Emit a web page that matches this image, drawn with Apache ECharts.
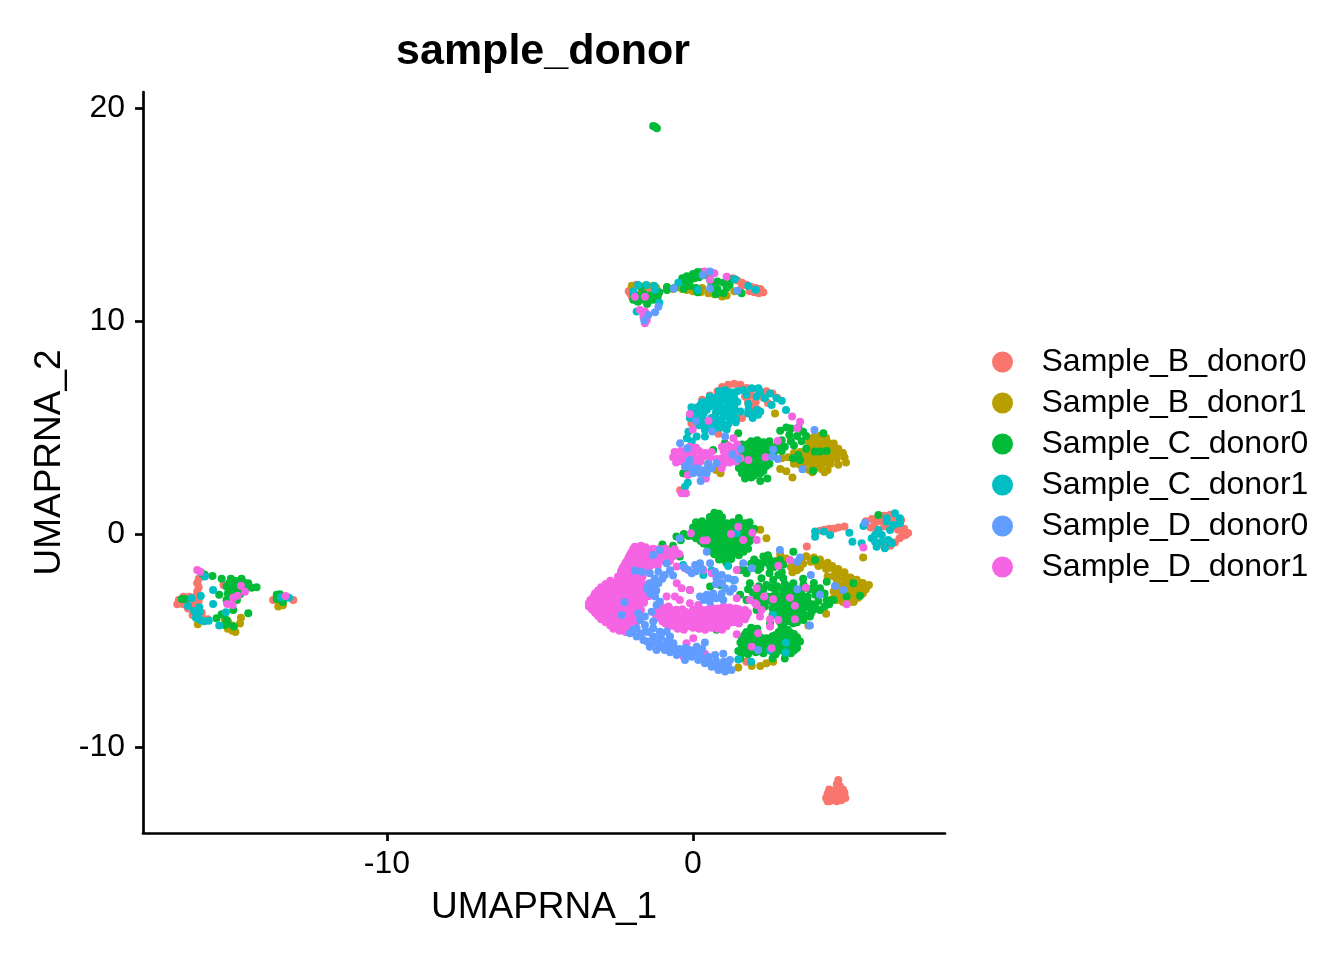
<!DOCTYPE html>
<html><head><meta charset="utf-8">
<style>html,body{margin:0;padding:0;background:#fff}#c{width:1344px;height:960px}</style>
<script src="https://cdn.jsdelivr.net/npm/echarts@6/dist/echarts.min.js"></script>
</head><body><div id="c"></div>
<script>
const xTicks=[-10,0];
const yTicks=[-10,0,10,20];
const seriesNames=["Sample_B_donor0","Sample_B_donor1","Sample_C_donor0","Sample_C_donor1","Sample_D_donor0","Sample_D_donor1"];
const seriesColors=["#F8766D","#B79F00","#00BA38","#00BFC4","#619CFF","#F564E3"];
const sampleB0=[[4.35,-12.4],[4.45,-12.55],[4.55,-12.5],[4.7,-12.55],[4.85,-12.5],[4.98,-12.4],[4.4,-12.2],[4.55,-12.25],[4.7,-12.3],[4.85,-12.25],[4.95,-12.15],[4.45,-12],[4.6,-12.05],[4.75,-12],[4.9,-12],[4.7,-11.75],[4.8,-11.85],[4.75,-11.55],[4.4,-12.55],
[5.65,.6],[5.85,.7],[6.05,.8],[6.25,.85],[6.45,.9],[6.6,.8],[6.8,.65],[5.95,.5],[6.15,.6],[6.35,.65],[6.55,.55],[6.75,.4],[6.9,.25],[7.03,.05],[6.85,0],[6.7,.2],[6.5,.3],[6.25,.35],[6,.2],[6.75,-.2],[6.6,-.4],[6.45,-.55],[6.2,-.5],[6.95,-.05],[5.8,.3],[6.85,-.1],
[4.15,.15],[4.3,.2],[4.45,.25],[4.6,.25],[4.75,.3],[4.95,.35],[3.72,-.59],[1.75,-6],
[-2.1,11.4],[-2,11.6],[-1.85,11.7],[-1.7,11.3],[-2,11.15],[1.3,12],[1.45,11.9],[1.6,11.8],[1.75,11.7],[1.9,11.6],[2.05,11.55],[2.2,11.5],[2.3,11.35],[2.15,11.3],[2,11.35],[1.85,11.4],[.3,12.2],[.5,12.2],
[-1.95,11.5],[-2.05,11.3],[-1.65,11.5],[-1.45,11.55],[1.6,11.65],[1.95,11.45],[2.1,11.45],
[.3,6.3],[.55,6.5],[.8,6.7],[.95,6.9],[1.15,7],[1.35,7.05],[1.55,7],[1.75,6.85],[1.95,6.8],[2.15,6.75],[2.4,6.7],[2.6,6.6],[2.75,6.4],[1.9,6.5],[1.8,6.2],[1.95,6],[2.1,5.85],[1.85,5.7],[1.6,5.45],[2.3,6.4],[2.45,6.15],[1.4,5.5],[0,5.7],[-.05,5.2],[1.7,6.45],[2.05,6.2],[.83,4.7],[-.42,2.05],
[-16.15,-2.1],[-16.2,-2.3],[-16.15,-2.5],[-16.2,-2.7],[-16.25,-2.95],[-16.65,-2.95],[-16.45,-2.95],[-16.8,-3.1],[-16.85,-3.3],[-16.65,-3.3],[-16.45,-3.2],[-16.3,-3.2],[-16.15,-3.15],[-16.5,-3.5],[-16.3,-3.5],[-16.2,-3.7],[-16.35,-3.8],[-16.15,-4],[-16.05,-3.7],[-15.85,-4],[-15.34,-2.4],[-13.72,-3.1],[-13.06,-3.1],[-16.55,-3.1],[-16.35,-3.35],[-16.25,-3.85],[-16.05,-3.9]];
const sampleB1=[[-15.2,-4.1],[-15.05,-4.3],[-15.2,-4.45],[-15.05,-4.55],[-14.95,-4.6],[-14.8,-4.2],[-15.3,-4],[-14.77,-3.93],[-16.18,-4.24],[-13.55,-3.4],[-13.4,-3.35],[-13.5,-3.3],
[-2,11.65],[-1.55,11.65],[-1.3,11.65],[-1.2,11.55],[-.65,11.5],[-.5,11.6],[-.35,11.5],[-.2,11.45],[0,11.4],[.25,11.35],[.5,11.3],[.7,11.25],[.95,11.15],[1.1,11.2],[1.35,11.4],[.3,11.55],[.6,11.5],
[3.95,4.55],[4.15,4.6],[4.35,4.5],[3.8,4.3],[4,4.35],[4.2,4.25],[4.4,4.3],[4.6,4.25],[3.75,4.05],[3.95,4],[4.15,4.1],[4.35,4],[4.55,4.05],[4.75,4],[3.3,3.8],[3.5,3.85],[3.7,3.75],[3.9,3.8],[4.1,3.85],[4.3,3.75],[4.5,3.8],[4.7,3.85],[4.9,3.8],[2.9,3.55],[3.1,3.6],[3.3,3.5],[3.5,3.55],[3.7,3.6],[3.9,3.5],[4.1,3.55],[4.3,3.6],[4.5,3.5],[4.7,3.55],[4.95,3.6],[3.3,3.3],[3.5,3.25],[3.7,3.35],[3.9,3.3],[4.1,3.25],[4.3,3.35],[4.5,3.3],[4.75,3.25],[5,3.35],[3.6,3.05],[3.8,3],[4,3.1],[4.2,3.05],[4.4,3],[3.9,2.9],[4.3,2.9],[2.85,3.05],[3.05,2.95],[3.25,2.65],[.9,2.85],[.75,3],[2.68,5.65],
[3.25,-1.8],[3.2,-1.55],[3.5,-1.6],[3.45,-1.3],[3.7,-1.05],[3.95,-1.1],[4.15,-1.2],[4.4,-1.35],[4.55,-1.5],[4.75,-1.65],[4.95,-1.8],[5.15,-2.05],[5.35,-2.15],[5.55,-2.3],[5.75,-2.4],[5.65,-2.6],[5.45,-2.45],[5.2,-2.4],[5,-2.2],[4.8,-2.05],[4.6,-2],[4.35,-1.65],[4.1,-1.5],[5.55,-2.8],[5.35,-2.7],[5.15,-2.65],[4.95,-2.6],[4.75,-2.5],[5.4,-3],[5.2,-2.95],[5,-2.9],[4.8,-2.85],[4.6,-2.7],[5.1,-3.2],[4.9,-3.2],[4.7,-3.1],[5.25,-3.2],[4.55,-3.05],[3.6,-1.4],[2.85,-.95],[2.75,-1.25],[3.05,-1.15],[4.4,-2],[4.35,-3.75],[3.77,-4.3],[2.4,-.2],[2.2,.2],[5.56,-1.1],[1.92,-6.2],[2.4,-6.07],[2.62,-6],[2.2,-6.2],[1.48,-6.27],
[3.85,-1.3],[4.05,-1.35],[4.25,-1.45],[4.45,-1.6],[4.65,-1.8],[4.85,-1.95],[5.05,-2.05],[5.25,-2.2],[5.45,-2.3],[5.6,-2.45],[5.5,-2.65],[5.3,-2.55],[5.1,-2.5],[4.9,-2.4],[4.7,-2.3],[5.25,-2.8],[5.05,-2.75],[4.85,-2.7],[4.65,-2.6],[5.3,-3.05],[5.1,-3.05],[4.9,-3.05],[4.7,-2.95],[3.35,-1.45],[3.55,-1.2],[3.4,-1.7]];
const sampleC0=[[-1.24,19.12],[-1.3,19.15],[-1.18,19.05],
[.7,1],[.85,.95],[.55,.8],[.75,.85],[.95,.78],[1.5,.75],[.1,.55],[.3,.6],[.5,.5],[.7,.55],[.9,.6],[1.1,.5],[1.3,.55],[1.5,.6],[1.7,.5],[1.85,.55],[0,.3],[.2,.25],[.4,.35],[.6,.3],[.8,.25],[1,.35],[1.2,.3],[1.4,.25],[1.6,.35],[1.8,.3],[2,.25],[-.05,.05],[.15,.1],[.35,0],[.55,.05],[.75,.1],[.95,0],[1.15,.05],[1.35,.1],[1.55,0],[1.75,.05],[1.95,.1],[.1,-.2],[.3,-.25],[.5,-.15],[.7,-.2],[.9,-.25],[1.1,-.15],[1.3,-.2],[1.5,-.25],[1.7,-.15],[1.9,-.2],[.35,-.45],[.55,-.5],[.75,-.4],[.95,-.45],[1.15,-.5],[1.35,-.4],[1.55,-.45],[1.75,-.5],[.6,-.7],[.8,-.75],[1,-.65],[1.2,-.7],[1.4,-.75],[1.6,-.65],[1.8,-.7],[.7,-.95],[.9,-1],[1.1,-.9],[1.3,-.95],[1.5,-1],[.85,-1.2],[1.05,-1.25],[1.25,-1.18],[-.54,-.12],[-.3,0],[-1,-.5],[-.65,-.55],[-.4,-.3],[-.15,-.1],[-1.6,-.7],
[.2,.42],[.4,.44],[.6,.4],[.8,.43],[1,.41],[1.2,.44],[1.4,.4],[1.6,.43],[1.8,.41],[.1,.18],[.3,.16],[.5,.2],[.7,.17],[.9,.19],[1.1,.16],[1.3,.2],[1.5,.17],[1.7,.19],[1.9,.16],[0,-.08],[.2,-.06],[.4,-.1],[.6,-.07],[.8,-.09],[1,-.06],[1.2,-.1],[1.4,-.07],[1.6,-.09],[1.8,-.06],[.25,-.33],[.45,-.31],[.65,-.35],[.85,-.32],[1.05,-.34],[1.25,-.31],[1.45,-.35],[1.65,-.32],[1.85,-.34],[.5,-.6],[.7,-.58],[.9,-.62],[1.1,-.59],[1.3,-.61],[1.5,-.58],[1.7,-.62],[.65,-.85],[.85,-.83],[1.05,-.87],[1.25,-.84],[1.45,-.86],[1.65,-.83],
[2.3,-1.06],[2.62,-1.3],[2.84,-1.22],[3.28,-.83],[2.52,-1.53],[2.13,-1.69],[2.24,-2.08],[2.79,-1.93],[2.95,-2.08],[2.62,-2.16],[3.28,-2.32],[3.61,-2.39],[3.5,-2.79],[3.17,-2.47],[2.95,-2.63],[2.84,-2.94],[2.62,-3.25],[2.95,-3.25],[3.17,-3.41],[3.5,-3.1],[3.71,-3.41],[3.93,-3.57],[4.15,-3.57],[4.37,-3.1],[4.59,-3.1],[4.37,-2.24],[3.99,-1.22],[1.75,-1.85],[1.54,-2.86],[1.75,-3.1],[2.08,-3.57],[2.35,-3.41],[2.73,-3.72],[3.06,-3.8],[3.39,-3.72],[3.61,-4.04],[3.82,-3.88],[3.28,-4.19],[2.95,-4.27],[2.52,-4.19],[2.08,-2.94],[2.41,-2.94],[1.86,-2.32],[5.24,-2.32],[5.46,-2.9],[5.02,-2.94],
[3,-2.9],[3.2,-2.9],[3.35,-3],[3.05,-3.05],[3.3,-3.2],[3.45,-3.35],[3.6,-3.3],[3.75,-3.2],[3.9,-3.3],[2.8,-3.4],[3,-3.5],[3.2,-3.6],[3.4,-3.5],[3.55,-3.6],[2.85,-3.6],[2.6,-3.5],[2.6,-3.8],[2.8,-3.9],[3,-4],[3.2,-3.9],[3.45,-3.95],[2.4,-2.4],[2.15,-2.45],[2.4,-3.15],[2.2,-3.2],[2,-3.15],[1.8,-2.6],[2.7,-2.7],[2.75,-2.45],[3.3,-2.6],[3,-2.35],[2.5,-1.2],[2.3,-1.35],[2.1,-1.35],[1.9,-1.4],[2.65,-1.55],[2.95,-1.45],[3.75,-2.95],[4,-2.85],[3.8,-2.6],[4.3,-3.4],[4.45,-3.3],[3.95,-2.3],[3.6,-2.1],
[3.1,-2.75],[3.25,-2.75],[3.4,-2.85],[2.75,-3.05],[2.95,-3.05],[3.15,-3.2],[2.7,-3.3],[3.65,-3.45],[3.85,-3.45],[4,-3.45],[3.6,-2.95],[3.3,-3.35],[3.1,-3.75],[2.95,-3.7],[3.3,-3.85],[2.7,-3.55],[2.85,-4.15],[3.4,-4.15],[3.15,-4.1],[2.45,-1],[2,-1.2],[2.2,-1.6],[2.5,-1.85],[2.9,-1.8],[2.3,-2.6],[2.55,-2.5],[1.95,-2.75],[2.15,-2.75],[2.55,-2.95],[3.55,-2.65],[3.95,-2.6],[4.15,-2.55],[4.3,-2.8],[4.1,-3.15],[3.85,-3.75],[3.65,-3.8],[1.7,-1.7],
[1.9,-4.4],[2.1,-4.45],[2.9,-4.4],[3.1,-4.5],[1.75,-4.6],[1.95,-4.65],[2.8,-4.6],[3,-4.7],[3.2,-4.65],[1.6,-4.85],[1.8,-4.9],[2,-4.8],[2.2,-4.85],[2.4,-4.9],[2.6,-4.8],[2.8,-4.85],[3,-4.9],[3.2,-4.8],[3.4,-4.85],[1.55,-5.1],[1.75,-5.05],[1.95,-5.15],[2.15,-5.1],[2.35,-5.05],[2.55,-5.15],[2.75,-5.1],[2.95,-5.05],[3.15,-5.15],[3.35,-5.1],[3.5,-5.05],[1.6,-5.35],[1.8,-5.4],[2,-5.3],[2.2,-5.35],[2.4,-5.4],[2.6,-5.3],[2.8,-5.35],[3,-5.4],[3.2,-5.3],[3.4,-5.35],[1.6,-5.6],[1.8,-5.65],[2.05,-5.55],[2.3,-5.6],[2.7,-5.65],[3,-5.55],[3.2,-5.6],[1.55,-5.85],[2.6,-5.85],[3,-5.85],
[1.65,-4.98],[1.85,-4.96],[2.05,-5],[2.25,-4.97],[2.45,-4.99],[2.65,-4.96],[2.85,-5],[3.05,-4.97],[3.25,-4.99],[1.7,-5.22],[1.9,-5.2],[2.1,-5.24],[2.3,-5.21],[2.5,-5.23],[2.7,-5.2],[2.9,-5.24],[3.1,-5.21],[3.3,-5.23],[1.7,-5.48],[1.9,-5.46],[2.15,-5.5],[2.35,-5.47],[2.55,-5.49],[2.85,-5.46],[3.1,-5.5],[3.3,-5.47],[1.7,-4.72],[1.9,-4.7],[2.7,-4.74],[2.9,-4.71],[3.1,-4.73],[3.3,-4.7],
[.56,-2.47],[-.1,-2.63],[.88,-2.4],[-.43,-1.06],[1.1,-1.38],[1.54,-1.69],[.77,-4.5],[1.48,-5.5],
[1.9,4.35],[2.1,4.4],[2.3,4.3],[2.5,4.35],[1.5,4.1],[1.7,4.05],[1.9,4.15],[2.1,4.1],[2.3,4.05],[2.5,4.15],[2.7,4.1],[1.45,3.85],[1.65,3.9],[1.85,3.8],[2.05,3.85],[2.25,3.9],[2.45,3.8],[2.65,3.85],[1.5,3.6],[1.7,3.55],[1.9,3.65],[2.1,3.6],[2.3,3.55],[2.5,3.65],[1.5,3.35],[1.7,3.4],[1.9,3.3],[2.1,3.35],[2.3,3.4],[2.5,3.3],[1.5,3.1],[1.7,3.05],[1.9,3.15],[2.1,3.1],[2.3,3.05],[1.6,2.85],[1.8,2.9],[2,2.8],[2.2,2.85],[1.7,2.6],[1.9,2.65],
[1.6,4.2],[1.8,4.22],[2,4.18],[2.2,4.21],[2.4,4.19],[1.55,3.95],[1.75,3.97],[1.95,3.93],[2.15,3.96],[2.35,3.94],[2.55,3.97],[1.6,3.7],[1.8,3.72],[2,3.68],[2.2,3.71],[2.4,3.69],[2.6,3.72],[1.6,3.45],[1.8,3.47],[2,3.43],[2.2,3.46],[2.4,3.44],[1.6,3.2],[1.8,3.22],[2,3.18],[2.2,3.21],[2.4,3.19],[1.7,2.95],[1.9,2.97],[2.1,2.93],[2.3,2.96],[1.8,2.72],[2,2.74],
[2.85,4.85],[3.05,5],[3.2,4.95],[3.45,5],[3.6,4.8],[3.7,4.6],[3.15,4.65],[2.9,4.4],[3.4,4.6],[3.55,4.35],[3.2,4.35],[3,4.1],[3.3,4.15],[2.8,4.2],[2.9,3.9],[3.7,4],[3.98,3.87],[4.15,3.87],[4.37,3.9],[4.26,4.73],[3.44,3.71],[3.26,3.55],[3.5,3.47],[3.93,2.97],[2.2,2.49],[2.43,2.6],[1.26,5.82],[1.48,4.73],[-.32,2.85],[.66,3.94],[1.04,4.26],[-.2,3],[.5,3.3],
[-1.95,11],[-1.8,10.9],[-1.6,11.05],[-1.45,10.95],[-1.3,11],[-1.15,11.15],[-1.1,11.35],[-1.75,11.2],[-1.5,10.8],[-1.95,11.3],[-1.7,11.6],[-.35,12],[-.2,12.1],[0,12.2],[.15,12.3],[.3,12.3],[-.1,11.9],[.05,12],[.2,12.05],[-.3,11.85],[-.6,11.55],[-.85,11.45],[-.85,11.6],[-.3,11.5],[-.1,11.65],[.1,11.55],[.15,11.35],[.6,11.7],[.8,11.5],[.75,11.25],[1,11.8],[1.1,11.55],[1.25,11.95],[1.2,11.7],[1,11.3],[1.59,11.3],[.55,11.95],[.8,11.85],
[-1.85,11.1],[-1.6,11.25],[-1.4,11.2],[-1.25,11.2],[-1.7,11],[.1,12.1],[.35,12.15],
[6.06,.89],[6.44,-.36],
[-15.7,-1.97],[-15.4,-2.1],[-15.1,-2.1],[-14.75,-2.1],[-14.53,-2.32],[-14.26,-2.5],[-14.42,-2.52],[-15.24,-2.47],[-15.02,-2.4],[-14.8,-2.4],[-14.64,-2.55],[-15.2,-2.79],[-14.97,-2.63],[-15.02,-2.94],[-14.8,-2.83],[-15.24,-3.1],[-14.9,-3.1],[-15.48,-2.86],[-15.02,-3.57],[-15.4,-3.77],[-14.53,-3.72],[-15.57,-3.96],[-15.24,-4.04],[-15.2,-4.2],[-15,-4.35],[-15.3,-4.27],[-16.7,-3.05],[-16.6,-3.05],[-16.05,-1.85],[-15.95,-1.92],[-13.6,-2.86],[-13.5,-2.83],[-13.6,-3.05],[-13.44,-3.1],[-13.4,-3.2],
[-15.15,-2.3],[-14.95,-2.2],[-14.7,-2.25],[-14.85,-2.6],[-15.1,-2.6],[-15.1,-2.85],[-14.95,-2.75]];
const sampleC1=[[-15.95,-2],[-15.68,-2.63],[-15.68,-3.29],[-16.08,-2.91],[-16.38,-3.02],[-16.5,-3.38],[-16.3,-3.62],[-16.13,-3.44],[-16.13,-3.68],[-16.24,-3.93],[-16.1,-4.04],[-15.97,-4.1],[-15.82,-4.08],[-15.48,-4.3],[-15.26,-3.68],[-13.46,-2.97],[-13.2,-2.99],
[-1.95,11.38],[-1.79,11.69],[-1.52,11.69],[-1.26,11.64],[-1.24,11.46],[-1.1,10.86],[-1.84,10.44],[-.48,11.8],[.17,11.46],[1.37,11.96],[1.81,11.64],[2.05,11.46],
[.85,6.7],[1.05,6.75],[1.25,6.65],[1.45,6.7],[1.65,6.75],[.55,6.45],[.75,6.4],[.95,6.5],[1.15,6.45],[1.35,6.4],[.3,6.2],[.5,6.25],[.7,6.15],[.9,6.2],[1.1,6.25],[1.3,6.15],[1.45,6.2],[.15,5.95],[.35,5.9],[.55,6],[.75,5.95],[.95,5.9],[1.15,6],[1.35,5.95],[-.05,5.7],[.15,5.75],[.35,5.65],[.75,5.7],[.95,5.75],[1.15,5.65],[1.35,5.7],[1.55,5.75],[1.8,5.65],[2.05,5.7],[2.2,5.75],[-.1,5.45],[.1,5.4],[.3,5.5],[.6,5.45],[.8,5.4],[1,5.5],[1.2,5.45],[1.4,5.4],[1.95,5.45],[.25,5.2],[.55,5.15],[.75,5.25],[.95,5.2],[1.15,5.15],[1.4,5.25],[.7,4.95],[.9,5],[1.1,4.9],
[.05,5.83],[.25,5.83],[.45,5.83],[.1,5.58],[.2,5.1],[.45,5.3],[.45,5.05],[-.05,5.95],[.25,6.05],[.45,6.1],
[1.75,6.53],[2.14,6.84],[1.92,6.84],[2.19,6.68],[2.52,6.6],[2.35,6.37],[2.08,6.45],[2.73,6.37],[2.9,6.26],[2.57,6.06],[1.81,6.1],[2.08,5.82],[2.13,5.6],[1.81,5.82],[3.04,5.82],[-.15,4.8],[-.2,4.49],[-.04,4.34],[.12,4.57],[.39,4.88],[.39,4.57],[-.26,2.22],[-.17,2.4],
[-.32,-1.46],[.34,-1.93],[.61,-1.72],[1.15,-1.5],[2.62,-3.8],[3.04,-5.1],[3.03,-5.57],[2.52,-5.45],[1.48,-5.9],[1.9,-6],[1.32,-2.16],[1.43,.03],
[3.99,.11],[3.99,-.13],[4.28,.11],[4.48,-.05],[5.11,.06],[5.21,-.36],[5.51,-.44],[5.57,.37],[6.6,.97],[6.76,.74],[6.33,.74],[6.33,.58],[6.55,.42],[6.76,.5],[6.44,.19],[5.95,-.05],[6.17,-.05],[5.95,-.36],[6.17,-.36],[6.38,-.28],[6,-.6],[6.27,-.67],[6.5,-.44],[5.84,-.2],[6.06,.19]];
const sampleD1=[[-2.1,-1.9],[-1.9,-1.95],[-1.7,-1.85],[-2.7,-2.2],[-2.5,-2.25],[-2.3,-2.15],[-2.1,-2.2],[-1.9,-2.25],[-1.7,-2.15],[-3,-2.5],[-2.8,-2.45],[-2.6,-2.55],[-2.4,-2.5],[-2.2,-2.45],[-2,-2.55],[-1.8,-2.5],[-3.2,-2.8],[-3,-2.85],[-2.8,-2.75],[-2.6,-2.8],[-2.4,-2.85],[-2.2,-2.75],[-2,-2.8],[-1.7,-2.85],[-3.35,-3.1],[-3.15,-3.05],[-2.95,-3.15],[-2.75,-3.1],[-2.55,-3.05],[-2.35,-3.15],[-2.15,-3.1],[-1.95,-3.05],[-1.6,-3.15],[-3.4,-3.4],[-3.2,-3.45],[-3,-3.35],[-2.8,-3.4],[-2.6,-3.45],[-2.4,-3.35],[-2.2,-3.4],[-2,-3.45],[-3.2,-3.7],[-3,-3.65],[-2.8,-3.75],[-2.6,-3.7],[-2.4,-3.65],[-2.2,-3.75],[-2,-3.7],[-1.8,-3.65],[-3,-4],[-2.8,-4.05],[-2.6,-3.95],[-2.4,-4],[-2.2,-4.05],[-2,-3.95],[-2.7,-4.3],[-2.5,-4.25],[-2.3,-4.35],[-2.1,-4.3],[-2.4,-4.55],[-2.2,-4.6],
[-2.85,-2.35],[-2.65,-2.33],[-2.45,-2.37],[-2.25,-2.34],[-2.05,-2.36],[-1.85,-2.33],[-1.65,-2.37],[-1.45,-2.34],[-3.1,-2.65],[-2.9,-2.63],[-2.7,-2.67],[-2.5,-2.64],[-2.3,-2.66],[-2.1,-2.63],[-1.9,-2.67],[-1.6,-2.64],[-1.4,-2.66],[-3.25,-2.95],[-3.05,-2.93],[-2.85,-2.97],[-2.65,-2.94],[-2.45,-2.96],[-2.25,-2.93],[-2.05,-2.97],[-1.85,-2.94],[-1.65,-2.96],[-1.45,-2.93],[-3.4,-3.25],[-3.2,-3.23],[-3,-3.27],[-2.8,-3.24],[-2.6,-3.26],[-2.4,-3.23],[-2.2,-3.27],[-2,-3.24],[-1.8,-3.26],[-1.6,-3.23],[-3.3,-3.55],[-3.1,-3.53],[-2.9,-3.57],[-2.7,-3.54],[-2.5,-3.56],[-2.3,-3.53],[-2.1,-3.57],[-1.9,-3.54],[-1.7,-3.56],[-3.1,-3.85],[-2.9,-3.83],[-2.7,-3.87],[-2.5,-3.84],[-2.3,-3.86],[-2.1,-3.83],[-1.9,-3.87],[-1.7,-3.84],[-2.85,-4.15],[-2.65,-4.13],[-2.45,-4.17],[-2.25,-4.14],[-2.05,-4.16],[-1.85,-4.13],[-2.6,-4.45],[-2.35,-4.43],[-2.1,-4.47],
[-1.9,-.6],[-1.7,-.55],[-1.55,-.62],[-2,-.85],[-1.8,-.9],[-1.6,-.8],[-1.4,-.85],[-1.2,-.9],[-1,-.8],[-.75,-.85],[-.5,-.9],[-2.1,-1.1],[-1.9,-1.05],[-1.7,-1.15],[-1.5,-1.1],[-1.3,-1.05],[-1.1,-1.15],[-.9,-1.1],[-.65,-1.05],[-2.2,-1.35],[-2,-1.4],[-1.8,-1.3],[-1.6,-1.35],[-1.2,-1.4],[-.9,-1.3],[-2.3,-1.6],[-2.1,-1.55],[-1.9,-1.65],[-1.6,-1.6],
[-1.95,-.7],[-1.75,-.68],[-1.5,-.72],[-1.3,-.69],[-1.1,-.71],[-.9,-.68],[-.6,-.72],[-2.05,-.95],[-1.85,-.93],[-1.65,-.97],[-1.45,-.94],[-1.25,-.96],[-1.05,-.93],[-.85,-.97],[-.45,-.94],[-2.15,-1.25],[-1.95,-1.23],[-1.75,-1.27],[-1.55,-1.24],[-1.35,-1.26],[-1.05,-1.23],[-.75,-1.27],[-2.25,-1.5],[-2.05,-1.48],[-1.85,-1.52],[-1.65,-1.49],[-1.4,-1.51],[-1.15,-1.48],[-2.35,-1.75],[-2.15,-1.73],[-1.95,-1.77],[-1.75,-1.74],[-1.5,-1.76],[-2.45,-2],[-2.25,-1.98],[-2.05,-2.02],[-1.85,-1.99],[-1.65,-2.01],
[-1,-3.45],[-.8,-3.4],[.6,-3.45],[.8,-3.5],[1,-3.4],[1.2,-3.45],[1.4,-3.5],[-1.25,-3.7],[-1.05,-3.75],[-.85,-3.65],[-.65,-3.7],[-.45,-3.75],[-.25,-3.65],[-.05,-3.7],[.15,-3.75],[.35,-3.65],[.55,-3.7],[.75,-3.75],[.95,-3.65],[1.15,-3.7],[1.35,-3.75],[1.6,-3.65],[1.8,-3.7],[-1.1,-3.95],[-.9,-3.9],[-.7,-4],[-.5,-3.95],[-.3,-3.9],[-.1,-4],[.1,-3.95],[.3,-3.9],[.5,-4],[.7,-3.95],[.9,-3.9],[1.1,-4],[1.3,-3.95],[1.5,-3.9],[1.7,-4],[-.9,-4.2],[-.7,-4.25],[-.5,-4.15],[-.3,-4.2],[-.1,-4.25],[.1,-4.15],[.3,-4.2],[.5,-4.25],[.7,-4.15],[.9,-4.2],[1.1,-4.25],[1.3,-4.15],[1.5,-4.2],[-.5,-4.45],[-.3,-4.5],[0,-4.4],[.2,-4.45],[.4,-4.5],[.6,-4.4],[.8,-4.45],[.95,-4.5],
[-1.15,-3.55],[-.95,-3.57],[-.75,-3.53],[-.55,-3.56],[-.35,-3.54],[0,-3.57],[.25,-3.53],[.45,-3.56],[.7,-3.54],[.9,-3.57],[1.1,-3.53],[1.3,-3.56],[1.5,-3.54],[1.7,-3.57],[-1.2,-3.85],[-1,-3.83],[-.8,-3.87],[-.6,-3.84],[-.4,-3.86],[-.2,-3.83],[0,-3.87],[.2,-3.84],[.4,-3.86],[.6,-3.83],[.8,-3.87],[1,-3.84],[1.2,-3.86],[1.4,-3.83],[1.6,-3.87],[1.75,-3.84],[-1,-4.1],[-.8,-4.08],[-.6,-4.12],[-.4,-4.09],[-.2,-4.11],[0,-4.08],[.2,-4.12],[.4,-4.09],[.6,-4.11],[.8,-4.08],[1,-4.12],[1.2,-4.09],[1.4,-4.11],[-.8,-4.35],[-.6,-4.33],[-.4,-4.37],[-.2,-4.34],[.1,-4.36],[.3,-4.33],[.5,-4.37],[.7,-4.34],[.9,-4.36],[1.1,-4.33],
[1.48,.34],[1.24,0],[-.07,.03],[.34,-.31],[.45,-.3],[1.64,-.28],[1.94,.06],[2.08,-.28],[2.79,-1.49],[3.17,-1.22],[3.69,-2.52],[5.02,-3.3],[5.57,-.63],[3.17,-3],[3.33,-3.37],[3.33,-4],[2.79,-4.04],[2.52,-4],[2.13,-4.66],[1.92,-5.29],[2.57,-5.37],[1.43,-4.71],[2.08,-2.55],[2.33,-2.94],[2.62,-3.07],[2.03,-3.25],[1.86,-3.1],[2.08,-3.33],[2.24,-3.57],[2.19,-3.88],[2.52,-4.35],[1.43,-1.69],[.61,-1.85],[.34,-1.69],[-.26,-1.61],[-.53,-1.53],[-.53,-2.32],[-.37,-2.55],[-.1,-2.63],[-.86,-2.94],[-.59,-2.94],[-.43,-3.1],[-.1,-3.25],[.17,-3.33],[1.43,-3.02],[1.7,-3.8],[.01,-4.9],[-.21,-5.13],[.39,-5.63],[1.1,-6.04],[-.3,-5.79],
[-.1,4.1],[.1,4.05],[.95,4.1],[1.15,4.15],[1.3,4.05],[-.6,3.85],[-.4,3.9],[-.2,3.8],[0,3.85],[.2,3.9],[.4,3.8],[.6,3.85],[1,3.9],[1.2,3.8],[1.4,3.85],[-.65,3.6],[-.45,3.55],[-.25,3.65],[-.05,3.6],[.15,3.55],[.35,3.65],[.55,3.6],[.95,3.55],[1.15,3.65],[1.35,3.6],[1.55,3.55],[-.55,3.35],[-.35,3.4],[-.15,3.3],[.05,3.35],[.25,3.4],[1,3.3],[1.2,3.35],[1.4,3.4],[1.32,4.49],[1.45,4.2],[.94,3.08],[-.17,2.77],[.42,2.6],[1.81,3.47],[2.37,3.6],[2.77,4.36],[-.37,1.91],[-.23,1.91],[-.1,5.63],[.51,5.32],[-.01,4.91],[3.24,5.51],[3.5,5.27],[3.41,4.96],[.77,3.52],
[-1.9,11.14],[-1.57,11.14],[-1.73,10.52],[-1.57,10.44],[-1.62,10.2],[-1.51,10.05],[-1.57,9.89],[.39,12.32],[.7,12.24],[.56,11.93],[1.1,12.08],
[-16.2,-1.69],[-16.1,-1.77],[-14.77,-2.43],[-14.64,-2.71],[-14.88,-2.9],[-15.02,-3],[-15.22,-3.29],[-15.04,-3.33],[-13.31,-2.91]];
const sampleD0=[[-2.06,-4.66],[-1.84,-4.82],[-1.62,-4.98],[-1.41,-5.29],[-1.84,-4.43],[-1.57,-4.59],[-1.3,-4.82],[-1.13,-5.13],[-.92,-5.45],[-1.19,-5.45],[-.86,-4.59],[-.75,-4.82],[-.86,-5.05],[-.64,-5.13],[-.64,-5.37],[-1.08,-4.59],[-1.3,-4.43],[-1.57,-4.27],[-1.73,-4.04],[-1.79,-3.72],[-1.57,-3.88],[-1.3,-4.11],[-1.05,-4.85],[-.95,-5.25],
[-.53,-5.68],[-.32,-5.6],[-.1,-5.45],[.12,-5.29],[.39,-5.1],[-.04,-5.76],[.17,-5.92],[.39,-6.07],[.61,-6.23],[.83,-6.39],[1.05,-6.46],[1.26,-6.39],[.77,-6.15],[.5,-5.76],[.72,-5.68],[.99,-5.63],[1.21,-5.92],[-.26,-5.92],[.95,-6.2],[.2,-5.65],
[-1.95,-4.5],[-1.7,-4.7],[-1.45,-4.6],[-1.5,-5.05],[-1.25,-5.1],[-1.05,-5.3],[-.8,-5.25],[-.75,-5.55],[-.45,-5.4],[-.25,-5.35],[-.15,-5.7],[.05,-5.55],[.3,-5.85],[.55,-6.05],[.75,-5.95],[1,-6],[1.15,-6.2],[.3,-5.4],[-1.4,-2.8],[-1.2,-2.65],[-1,-2.1],[-1.25,-2.1],[-.75,-1.7],[-.65,-1.95],[-.3,-1.55],[.3,-1.65],[.1,-1.75],[.95,-2.3],[.75,-2.35],[1.05,-2.55],[.55,-3],[.35,-3.1],
[-1.51,-2.55],[-1.3,-2.47],[-1.41,-2.32],[-1.13,-2.32],[-.92,-1.93],[-1.13,-1.77],[-1.41,-1.85],[-1.68,-1.77],[-1.9,-1.72],[-1.24,-2.94],[-1.08,-3.18],[-1.19,-3.33],[-1.35,-3.65],[-2.24,-3.21],[-2.33,-3.8],[-1.08,-.75],[-1.3,-.99],[-.86,-1.38],
[-.43,-.2],[.45,-.83],[-.15,-1.69],[.07,-1.46],[.23,-1.38],[.56,-1.38],[-.04,-1.85],[.77,-2.08],[.94,-1.93],[1.15,-2.08],[1.37,-2.16],[.72,-1.77],[1.64,-1.38],[1.92,-1.61],[1.32,-2.55],[1.21,-2.71],[.94,-2.79],[.66,-2.79],[.45,-2.86],[.23,-2.94],[.55,-3.18],[.99,-3.1],[.77,-3.02],[2.84,-.75],[3.5,-1.1],[3.41,-1.3],[3.41,-2.6],[3.85,-1.93],[4.15,-2.86],[4.64,-2.44],[4.91,-2.63],[3.82,-4.3],[2.13,-5.45],[5.62,.53],
[-.62,11.53],[-1.13,10.67],[-1.24,10.41],[-1.46,10.28],[-1.59,10.02],[.32,12.16],[.56,12.32],[.56,11.53],[1.45,11.42],
[.1,5.3],[.63,4.81],[1.05,4.57],[-.42,4.26],[-.19,4.02],[1.56,3.99],[1.29,3.74],[1.48,3.52],[2.62,3.97],[2.59,3.63],[2.77,3.52],[3.58,3.04],[3.97,4.88],[-.26,3.16],[-.04,3.08],[-.15,3.32],[.17,3.08],[.39,3],[.61,3.08],[.5,3.28],[.77,3.32],[.23,2.85],[0,2.85],[.25,2.49],[-.1,3.47],[.45,2.85]];
const chartData=[sampleB0,sampleB1,sampleC0,sampleC1,sampleD1,sampleD0];
const chartOrder=[0,1,2,3,5,4];
const chart=echarts.init(document.getElementById('c'),null,{renderer:'canvas'});
const font='"Liberation Sans",Arial,sans-serif';
chart.setOption({
 animation:false,backgroundColor:'#fff',
 title:{text:'sample_donor',left:538,top:26,textAlign:'center',textStyle:{fontFamily:font,fontSize:43,fontWeight:'bold',color:'#000'}},
 grid:{left:143,right:399,top:92,bottom:127},
 xAxis:{type:'value',min:-17.97,max:8.235,name:'UMAPRNA_1',nameLocation:'middle',nameGap:56,
  nameTextStyle:{fontFamily:font,fontSize:37,color:'#000'},
  axisLine:{onZero:false,lineStyle:{color:'#000',width:2.7}},
  axisTick:{length:8,lineStyle:{color:'#000',width:2.7},customValues:xTicks},
  axisLabel:{customValues:xTicks,fontFamily:font,fontSize:32,color:'#000',margin:15,formatter:v=>String(v)},
  splitLine:{show:false}},
 yAxis:{type:'value',min:-14.04,max:20.75,name:'UMAPRNA_2',nameLocation:'middle',nameGap:75,
  nameTextStyle:{fontFamily:font,fontSize:37,color:'#000'},
  axisLine:{onZero:false,lineStyle:{color:'#000',width:2.7}},
  axisTick:{length:8,lineStyle:{color:'#000',width:2.7},customValues:yTicks},
  axisLabel:{customValues:yTicks,fontFamily:font,fontSize:32,color:'#000',margin:18,verticalAlign:'middle',padding:[5,0,0,0],formatter:v=>String(v)},
  splitLine:{show:false}},
 legend:{orient:'vertical',left:987,top:341,icon:'circle',itemWidth:68,itemHeight:21,itemGap:9,
  data:seriesNames,selectedMode:false,textStyle:{fontFamily:font,fontSize:32,color:'#000'}},
 series:chartData.map((d,i)=>({type:'scatter',name:seriesNames[chartOrder[i]],data:d,symbol:'circle',symbolSize:8,
  itemStyle:{color:seriesColors[chartOrder[i]],opacity:1},large:false,silent:true}))
});
</script></body></html>
